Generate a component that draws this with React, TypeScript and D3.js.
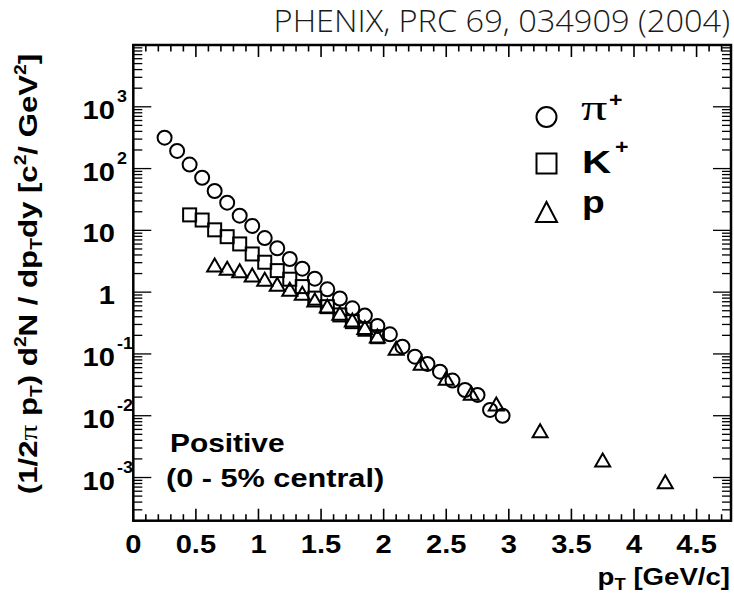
import React from "react";
import * as d3 from "d3";

const pionPt = [0.25, 0.35, 0.45, 0.55, 0.65, 0.75, 0.85, 0.95, 1.05, 1.15, 1.25, 1.35, 1.45, 1.55, 1.65, 1.75, 1.85, 1.95, 2.05, 2.15, 2.25, 2.35, 2.45, 2.55, 2.65, 2.75, 2.85, 2.95];
const pionY = [316, 193, 116, 71, 43.4, 28.1, 17.3, 11.8, 7.5, 5.13, 3.44, 2.4, 1.65, 1.11, 0.79, 0.548, 0.417, 0.284, 0.208, 0.131, 0.0904, 0.0689, 0.0517, 0.037, 0.0261, 0.0217, 0.0124, 0.01];

const kaonPt = [0.45, 0.55, 0.65, 0.75, 0.85, 0.95, 1.05, 1.15, 1.25, 1.35, 1.45, 1.55, 1.65, 1.75, 1.85, 1.95];
const kaonY = [17.8, 14.7, 10.2, 7.9, 6.03, 4.15, 3.05, 2.23, 1.62, 1.23, 0.8, 0.582, 0.428, 0.333, 0.251, 0.19];

const protonPt = [0.65, 0.75, 0.85, 0.95, 1.05, 1.15, 1.25, 1.35, 1.45, 1.55, 1.65, 1.75, 1.85, 1.95, 2.1, 2.3, 2.5, 2.7, 2.9, 3.25, 3.75, 4.25];
const protonY = [2.75, 2.44, 2.23, 1.9, 1.62, 1.34, 1.11, 0.96, 0.748, 0.598, 0.455, 0.355, 0.267, 0.195, 0.124, 0.0706, 0.0404, 0.0231, 0.0155, 0.0057, 0.00192, 0.000857];

const xTickLabels = ["0", "0.5", "1", "1.5", "2", "2.5", "3", "3.5", "4", "4.5"];
const yDecades = [-3, -2, -1, 0, 1, 2, 3];

const X_DOMAIN = [0, 4.775];
const Y_DOMAIN = [2e-4, 1e4];

const FONT = "'Liberation Sans', Arial, Helvetica, sans-serif";
const SERIF = "'Liberation Serif', 'Times New Roman', serif";

export default function App() {
  const W = 734, H = 594;
  const L = 133.3, R = 731, T = 45, B = 520.7;
  const x = d3.scaleLinear().domain(X_DOMAIN).range([L, R]);
  const y = d3.scaleLog().domain(Y_DOMAIN).range([B, T]);

  const xMinor = d3.range(0, X_DOMAIN[1] + 1e-9, 0.1);
  const yMinor: number[] = [];
  for (let e = -4; e <= 4; e++) {
    for (let m = 1; m <= 9; m++) {
      const v = m * Math.pow(10, e);
      if (v >= Y_DOMAIN[0] && v <= Y_DOMAIN[1]) yMinor.push(v);
    }
  }

  const sw = 2;
  const tri = (cx: number, cy: number, w: number, h: number) =>
    `M${cx - w / 2},${cy + h / 2}L${cx + w / 2},${cy + h / 2}L${cx},${cy - h / 2}Z`;
  const sx = 1.12;

  return (
    <svg width={W} height={H} style={{ display: "block", position: "absolute", left: 0, top: 0 }}>
      <rect x={0} y={0} width={W} height={H} fill="white" />
      {/* title */}
      <text transform="translate(730,32) scale(1.05,1)" textAnchor="end" fontFamily="'Open Sans', sans-serif" fontWeight={300} fontSize={31} fill="#1a1a1a">
        PHENIX, PRC 69, 034909 (2004)
      </text>

      {/* frame */}
      <rect x={L} y={T} width={R - L} height={B - T} fill="none" stroke="black" strokeWidth={2.5} />

      {/* x ticks */}
      {xMinor.map((v, i) => {
        const major = i % 5 === 0;
        const len = major ? 12 : 6.5;
        const px = x(v);
        return (
          <g key={"xt" + i}>
            <line x1={px} x2={px} y1={B} y2={B - len} stroke="black" strokeWidth={1.6} />
            <line x1={px} x2={px} y1={T} y2={T + len} stroke="black" strokeWidth={1.6} />
          </g>
        );
      })}
      {/* y ticks */}
      {yMinor.map((v, i) => {
        const major = Math.abs(Math.log10(v) - Math.round(Math.log10(v))) < 1e-9;
        const len = major ? 18 : 9;
        const py = y(v);
        return (
          <g key={"yt" + i}>
            <line x1={L} x2={L + len} y1={py} y2={py} stroke="black" strokeWidth={1.3} />
            <line x1={R} x2={R - len} y1={py} y2={py} stroke="black" strokeWidth={1.3} />
          </g>
        );
      })}

      {/* x tick labels */}
      {xTickLabels.map((t) => (
        <text key={"xl" + t} transform={`translate(${x(+t)},553) scale(${sx},1)`} textAnchor="middle" fontFamily={FONT} fontWeight="bold" fontSize={26}>
          {t}
        </text>
      ))}
      {/* y tick labels */}
      {yDecades.map((e) => {
        const py = y(Math.pow(10, e));
        const base = e === 0 ? "1" : "10";
        return (
          <g key={"yl" + e}>
            <text transform={`translate(115,${py + 12}) scale(${sx},1)`} textAnchor="end" fontFamily={FONT} fontWeight="bold" fontSize={26}>{base}</text>
            {e !== 0 && e !== 1 && (
              <text transform={`translate(117,${py - 5}) scale(${sx},1)`} textAnchor="start" fontFamily={FONT} fontWeight="bold" fontSize={16}>{String(e)}</text>
            )}
          </g>
        );
      })}

      {/* axis titles */}
      <text transform="translate(730,585) scale(1.15,1)" textAnchor="end" fontFamily={FONT} fontWeight="bold" fontSize={24}>
        p<tspan fontSize={16} dy={5}>T</tspan><tspan dy={-5}> [GeV/c]</tspan>
      </text>
      <text transform="translate(37,274) rotate(-90) scale(1.2,1)" textAnchor="middle" fontFamily={FONT} fontWeight="bold" fontSize={26}>
        (1/2<tspan fontFamily={SERIF} fontWeight="normal">π</tspan> p<tspan fontSize={16} dy={5}>T</tspan>
        <tspan dy={-5}>) d</tspan><tspan fontSize={16} dy={-11}>2</tspan><tspan dy={11}>N / dp</tspan>
        <tspan fontSize={16} dy={5}>T</tspan><tspan dy={-5}>dy [c</tspan><tspan fontSize={16} dy={-11}>2</tspan>
        <tspan dy={11}>/ GeV</tspan><tspan fontSize={16} dy={-11}>2</tspan><tspan dy={11}>]</tspan>
      </text>

      {/* annotations */}
      <text transform="translate(170,452) scale(1.15,1)" fontFamily={FONT} fontWeight="bold" fontSize={26}>Positive</text>
      <text transform="translate(166,487) scale(1.18,1)" fontFamily={FONT} fontWeight="bold" fontSize={26}>(0 - 5% central)</text>

      {/* data */}
      {pionPt.map((p, i) => (
        <circle key={"pi" + i} cx={x(p)} cy={y(pionY[i])} r={7} fill="none" stroke="black" strokeWidth={sw} />
      ))}
      {kaonPt.map((p, i) => (
        <rect key={"k" + i} x={x(p) - 6.5} y={y(kaonY[i]) - 6.5} width={13} height={13} fill="none" stroke="black" strokeWidth={sw} />
      ))}
      {protonPt.map((p, i) => (
        <path key={"p" + i} d={tri(x(p), y(protonY[i]), 15, 13)} fill="none" stroke="black" strokeWidth={sw} strokeLinejoin="miter" />
      ))}

      {/* legend */}
      <circle cx={546.5} cy={117} r={10} fill="none" stroke="black" strokeWidth={2} />
      <rect x={536.5} y={153.5} width={20} height={20} fill="none" stroke="black" strokeWidth={2} />
      <path d={tri(546.5, 212, 21, 20)} fill="none" stroke="black" strokeWidth={2} />
      <text transform="translate(581,120) scale(1.45,1)" fontFamily={SERIF} fontSize={36}>π</text>
      <text transform="translate(609,107) scale(1.1,1)" fontFamily={FONT} fontWeight="bold" fontSize={21}>+</text>
      <text transform="translate(582,173) scale(1.3,1)" fontFamily={FONT} fontWeight="bold" fontSize={31}>K</text>
      <text transform="translate(615,154) scale(1.1,1)" fontFamily={FONT} fontWeight="bold" fontSize={21}>+</text>
      <text transform="translate(582,213) scale(1.2,1)" fontFamily={FONT} fontWeight="bold" fontSize={31}>p</text>
    </svg>
  );
}
